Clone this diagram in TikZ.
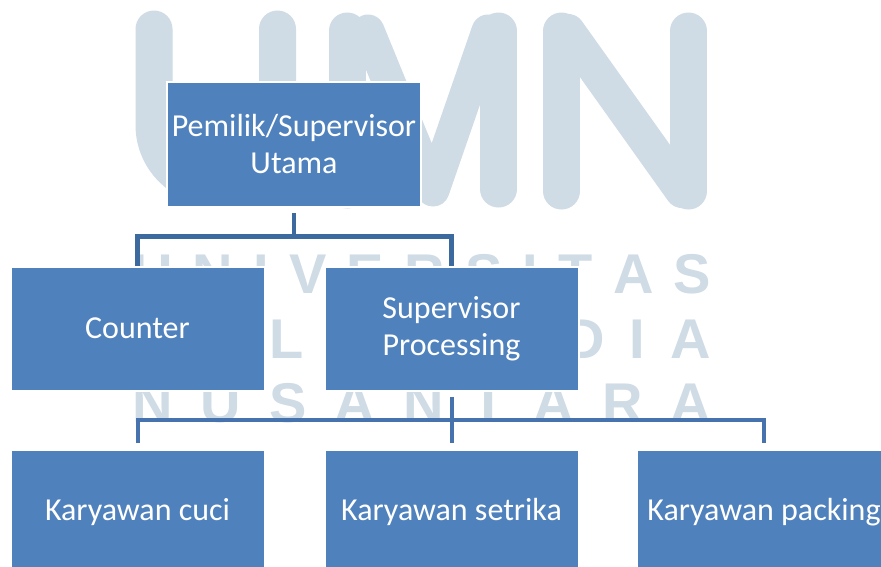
\documentclass[tikz,border=0pt]{standalone}
\usepackage{fontspec}
\setmainfont{Carlito}
\newfontfamily\wmfont{Liberation Sans}
\definecolor{boxblue}{HTML}{4F81BD}
\definecolor{wmcol}{HTML}{CFDBE5}
\definecolor{linkAcol}{HTML}{3D6A9E}
\definecolor{linkBcol}{HTML}{4673AD}
\begin{document}
\begin{tikzpicture}[x=1pt,y=-1pt,
  orgbox/.style={rectangle, fill=boxblue, draw=white, line width=2pt,
    minimum width=254pt, minimum height=124pt, inner sep=0pt,
    text=white, align=center, font=\fontsize{32}{37}\selectfont},
  wmstroke/.style={draw=wmcol, line width=37pt, line cap=round, line join=round},
  wmrow/.style={anchor=base west, inner sep=0pt, text=wmcol,
    font=\wmfont\bfseries\fontsize{56}{56}\selectfont},
  linkup/.style={draw=linkAcol, line width=4.5pt},
  linkdown/.style={draw=linkBcol, line width=4pt}
]
\useasboundingbox (0,0) rectangle (881,566);
\clip (0,0) rectangle (881,566);
\fill[white] (0,0) rectangle (881,566);

% watermark: UMN
\draw[wmstroke] (154,29) -- (154,125) arc[start angle=180, end angle=0, radius=61.75] -- (277.5,29);
\draw[wmstroke] (347,31) -- (347,190);
\draw[wmstroke, line width=33pt] (368,31) -- (433,190) -- (488,31);
\draw[wmstroke] (498.5,31) -- (498.5,189);
\draw[wmstroke] (561.5,191) -- (561.5,31);
\draw[wmstroke] (688.5,191) -- (688.5,31);
\draw[wmstroke, line width=34pt] (568,31) -- (682,191);

% watermark: rows
\node[wmrow] (wmA) at (132,293) {\makebox[579pt][l]{U\hfill N\hfill I\hfill V\hfill E\hfill R\hfill S\hfill I\hfill T\hfill A\hfill S}};
\node[wmrow] (wmB) at (132,358) {\makebox[579pt][l]{M\hfill U\hfill L\hfill T\hfill I\hfill M\hfill E\hfill D\hfill I\hfill A}};
\node[wmrow] (wmC) at (132,422) {\makebox[579pt][l]{N\hfill U\hfill S\hfill A\hfill N\hfill T\hfill A\hfill R\hfill A}};

% boxes
\node[orgbox, minimum height=125pt] (top) at (294,144.5) {Pemilik/Supervisor\\Utama};
\node[orgbox] (counter) at (137.5,328.5) {Counter};
\node[orgbox] (sup) at (451.5,328.5) {Supervisor\\Processing};
\node[orgbox] (cuci) at (137.5,512) {Karyawan cuci};
\node[orgbox] (setrika) at (451.5,512) {Karyawan setrika};
\node[orgbox] (pack) at (764,512) {Karyawan packing};

% connectors
\coordinate (j1) at (294,236.5);
\coordinate (j2) at (451.5,420);
\draw[linkup] ([yshift=-5pt]top.south) -- (j1);
\draw[linkup] (counter.north) |- (j1) -| (sup.north);
\draw[linkdown] ([yshift=-5pt]sup.south) -- ([yshift=6pt]setrika.north);
\draw[linkdown] ([yshift=6pt]cuci.north) |- (j2) -| ([yshift=6pt]pack.north);
\end{tikzpicture}
\end{document}
